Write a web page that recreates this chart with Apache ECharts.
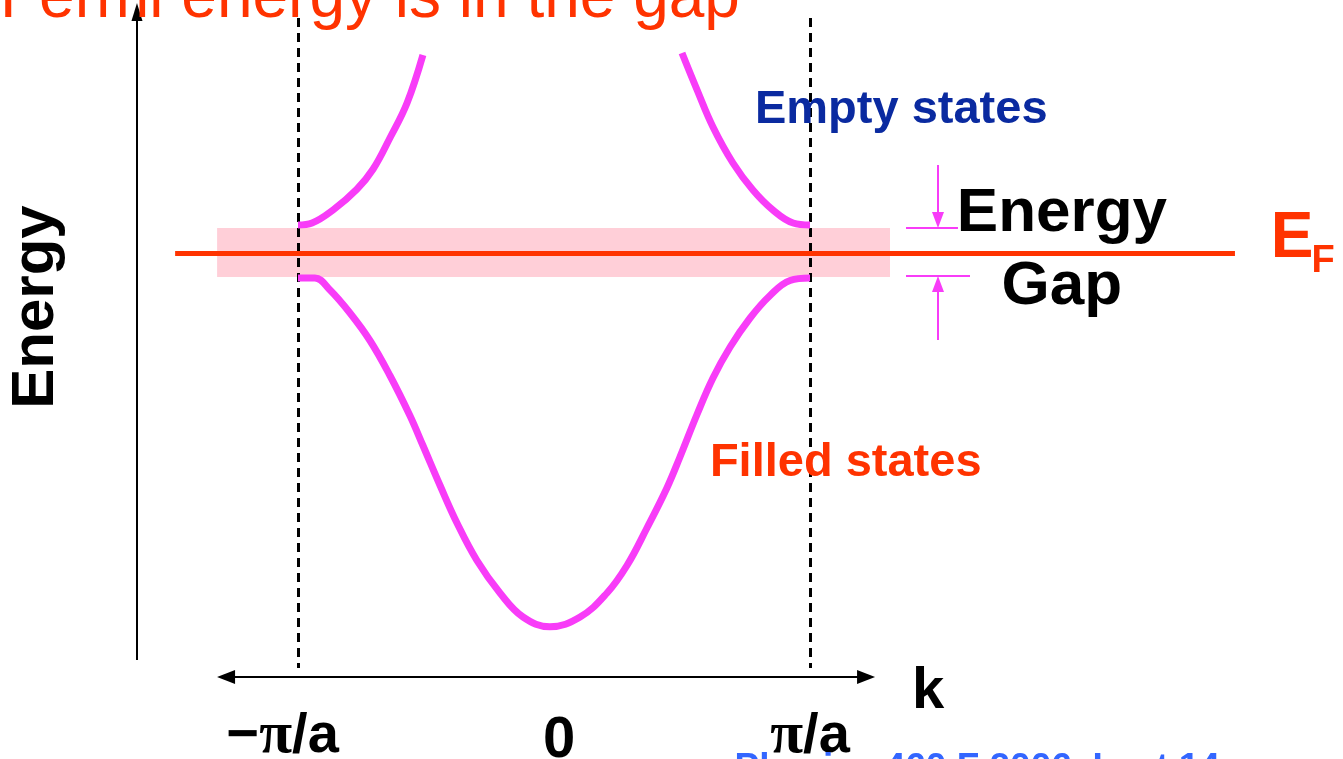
<!DOCTYPE html>
<html>
<head>
<meta charset="utf-8">
<title>Fermi energy is in the gap</title>
<script src="https://cdn.jsdelivr.net/npm/echarts@6/dist/echarts.min.js"></script>
<style>
  html, body { margin: 0; padding: 0; background: #fff; }
  #main { width: 1343px; height: 759px; }
</style>
</head>
<body>
<div id="main"></div>
<script>
// k in units of pi/a, energy in arbitrary units (gap edges near +-1, E_F = 0)
var kLower = [-1.0, -0.934, -0.875, -0.797, -0.719, -0.641, -0.563, -0.512, -0.445, -0.379, -0.301, -0.211, -0.121, -0.016,
              0.102, 0.207, 0.285, 0.363, 0.441, 0.492, 0.559, 0.621, 0.688, 0.766, 0.844, 0.922, 1.0];
var eLower = [-1.0, -1.0, -1.48, -2.4, -3.5, -4.9, -6.5, -7.7, -9.3, -10.8, -12.3, -13.6, -14.56, -14.95,
              -14.56, -13.6, -12.5, -11.0, -9.4, -8.16, -6.45, -5.0, -3.76, -2.6, -1.7, -1.1, -1.0];
var kUpperLeft = [-1.0, -0.945, -0.863, -0.770, -0.707, -0.641, -0.574, -0.512];
var eUpperLeft = [1.12, 1.2, 1.72, 2.55, 3.35, 4.6, 6.0, 7.92];
var kUpperRight = [0.5, 0.559, 0.621, 0.699, 0.777, 0.855, 0.934, 1.0];
var eUpperRight = [8.0, 6.52, 5.04, 3.6, 2.52, 1.72, 1.2, 1.12];

var gapTop = 1.0, gapBottom = -0.96;
var bandK = [-1.316, 1.3125];
var fermiK = [-1.48, 2.66];
var fermiE = 0;

var zoneK = [-1, 1];
var kTickLabels = ['{m|−}{p|π}{n|/a}', '{z|0}', '{p|π}{n|/a}'];
var kTickPos = [-1.06, 0.02, 1.0];

function zip(xs, ys) {
  return xs.map(function (x, i) { return [x, ys[i]]; });
}

var myChart = echarts.init(document.getElementById('main'));

var MAG = '#f83cf8';
var RED = '#ff3300';
var font = 'Liberation Sans';

function seg(a, b, color, width, type, s1, s2, size) {
  return [
    { coord: a, symbol: s1 || 'none', symbolSize: size || [12, 20],
      lineStyle: { color: color, width: width, type: type || 'solid' },
      itemStyle: { color: color } },
    { coord: b, symbol: s2 || 'none', symbolSize: size || [12, 20], itemStyle: { color: color } }
  ];
}

function txt(k, e, text, opts) {
  var lbl = Object.assign({
    show: true, position: 'inside', formatter: text, fontFamily: font,
    fontWeight: 'bold', align: 'center', verticalAlign: 'middle', color: '#000'
  }, opts);
  return { value: [k, e], label: lbl };
}

var piRich = {
  m: { fontFamily: font, fontWeight: 'bold', fontSize: 56, color: '#000' },
  p: { fontFamily: 'Liberation Serif', fontWeight: 'bold', fontSize: 60, color: '#000' },
  n: { fontFamily: font, fontWeight: 'bold', fontSize: 56, color: '#000' },
  z: { fontFamily: font, fontWeight: 'bold', fontSize: 58, color: '#000' }
};

var curveLine = { color: MAG, width: 7 };

var option = {
  animation: false,
  grid: { left: 0, right: 0, top: 0, bottom: 0 },
  xAxis: { type: 'value', min: -554 / 256, max: 789 / 256, show: false },
  yAxis: { type: 'value', min: -20.24, max: 10.12, show: false },
  series: [
    {
      name: 'filled band',
      type: 'line',
      data: zip(kLower, eLower),
      smooth: 0.4,
      showSymbol: false,
      z: 5,
      lineStyle: curveLine,
      markArea: {
        silent: true,
        itemStyle: { color: '#ffcfd8' },
        data: [[{ coord: [bandK[0], gapTop] }, { coord: [bandK[1], gapBottom] }]]
      },
      markLine: {
        silent: true,
        animation: false,
        label: { show: false },
        data: [
          seg([zoneK[0], 9.4], [zoneK[0], -16.6], '#000', 3, [9, 6]),
          seg([zoneK[1], 9.4], [zoneK[1], -16.6], '#000', 3, [9, 6]),
          seg([fermiK[0], fermiE], [fermiK[1], fermiE], RED, 5),
          seg([-1.629, -16.28], [-1.629, 9.64], '#000', 2, 'solid', 'none', 'triangle', [11, 18]),
          seg([-1.281, -16.96], [1.219, -16.96], '#000', 2, 'solid', 'triangle', 'triangle', [14, 18]),
          seg([1.5, 3.52], [1.5, 1.32], MAG, 2, 'solid', 'none', 'triangle', [12, 16]),
          seg([1.375, gapTop], [1.578, gapTop], MAG, 2),
          seg([1.5, -3.48], [1.5, -1.24], MAG, 2, 'solid', 'none', 'triangle', [12, 16]),
          seg([1.375, -0.92], [1.625, -0.92], MAG, 2)
        ]
      }
    },
    {
      name: 'empty band left',
      type: 'line',
      data: zip(kUpperLeft, eUpperLeft),
      smooth: 0.4,
      showSymbol: false,
      z: 5,
      lineStyle: curveLine
    },
    {
      name: 'empty band right',
      type: 'line',
      data: zip(kUpperRight, eUpperRight),
      smooth: 0.4,
      showSymbol: false,
      z: 5,
      lineStyle: curveLine
    },
    {
      name: 'labels',
      type: 'scatter',
      symbolSize: 0,
      clip: false,
      silent: true,
      z: 10,
      itemStyle: { opacity: 1 },
      data: [
        txt(kTickPos[0], -19.35, kTickLabels[0], { rich: piRich }),
        txt(kTickPos[1], -19.5, kTickLabels[1], { rich: piRich }),
        txt(kTickPos[2], -19.35, kTickLabels[2], { rich: piRich }),
        txt(1.461, -17.55, 'k', { fontSize: 58 }),
        txt(-2.02, -2.16, 'Energy', { fontSize: 60, rotate: 90 }),
        txt(0.785, 5.72, 'Empty states', { fontSize: 47, align: 'left', color: '#0a2aa0' }),
        txt(0.609, -8.4, 'Filled states', { fontSize: 47, align: 'left', color: RED }),
        txt(1.984, 1.56, 'Energy', { fontSize: 62 }),
        txt(1.984, -1.36, 'Gap', { fontSize: 62 }),
        txt(2.883, 0.56, 'E', { fontSize: 64, color: RED }),
        txt(3.004, -0.36, 'F', { fontSize: 38, color: RED }),
        txt(-2.164, 10.16, 'Fermi energy is in the gap', { fontSize: 64, fontWeight: 'normal', align: 'left', color: RED }),
        txt(0.705, -20.64, 'Physics 460 F 2006, Lect 14', { fontSize: 37, align: 'left', color: '#3366ff' })
      ]
    }
  ]
};

myChart.setOption(option);
</script>
</body>
</html>
